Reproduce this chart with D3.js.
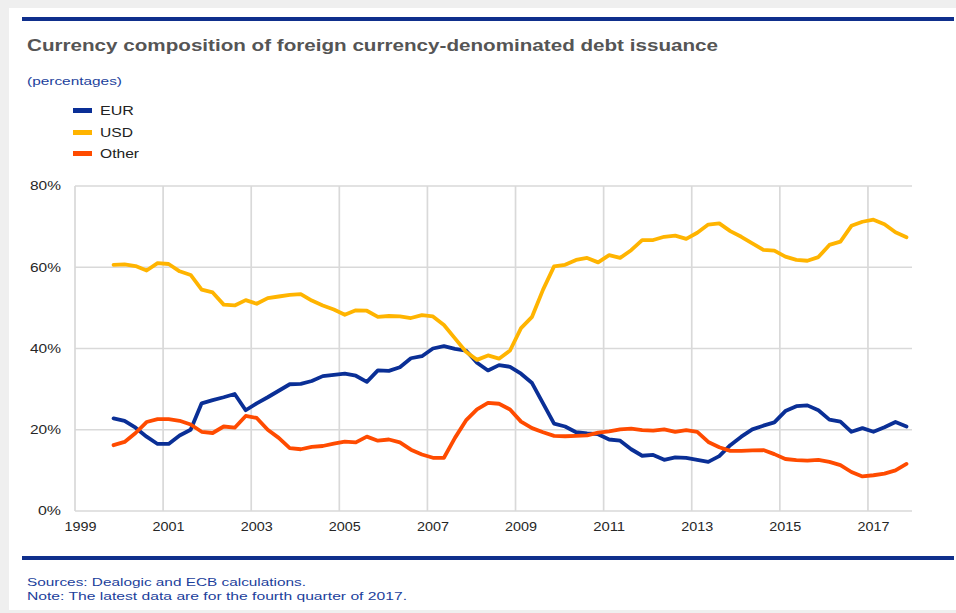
<!DOCTYPE html>
<html>
<head>
<meta charset="utf-8">
<script src="https://cdn.jsdelivr.net/npm/d3@7"></script>
<style>
  html, body { margin: 0; padding: 0; background: #efefef; }
  svg { display: block; }
  text { font-family: "Liberation Sans", Arial, sans-serif; }
</style>
</head>
<body>
<svg id="chart" width="956" height="613"></svg>
<script>
// Quarterly observations, 1999 Q4 to 2017 Q4
const firstYear = 1999, firstQuarter = 4, nQuarters = 73;
const quarters = [];
for (let i = 0; i < nQuarters; i++) {
  const k = (firstQuarter - 1) + i;
  quarters.push({ year: firstYear + Math.floor(k / 4), q: (k % 4) + 1 });
}

// Shares of issuance (percentages)
const eur = [
  22.8, 22.2, 20.5, 18.3, 16.5, 16.5, 18.6, 20.0, 26.5, 27.3,
  28.0, 28.8, 24.8, 26.5, 28.0, 29.6, 31.2, 31.3, 32.0, 33.2,
  33.5, 33.8, 33.3, 31.8, 34.6, 34.5, 35.4, 37.6, 38.1, 40.0,
  40.6, 39.9, 39.5, 36.5, 34.6, 35.9, 35.5, 33.8, 31.5, 26.5,
  21.5, 20.8, 19.4, 19.1, 18.9, 17.6, 17.3, 15.2, 13.6, 13.8,
  12.6, 13.2, 13.1, 12.6, 12.1, 13.5, 16.2, 18.3, 20.1, 21.0,
  21.8, 24.6, 25.8, 26.0, 24.8, 22.5, 22.0, 19.5, 20.4, 19.5,
  20.6, 21.9, 20.8
];
const usd = [
  60.6, 60.7, 60.3, 59.2, 61.0, 60.8, 59.0, 58.1, 54.5, 53.8,
  50.8, 50.6, 51.9, 51.0, 52.4, 52.8, 53.2, 53.4, 51.8, 50.6,
  49.6, 48.3, 49.4, 49.3, 47.8, 48.0, 47.9, 47.5, 48.2, 47.9,
  45.8, 42.5, 39.2, 37.2, 38.3, 37.5, 39.5, 45.0, 47.8, 54.5,
  60.2, 60.6, 61.8, 62.3, 61.2, 63.0, 62.3, 64.2, 66.7, 66.7,
  67.5, 67.8, 67.0, 68.5, 70.5, 70.8, 68.9, 67.5, 65.9, 64.3,
  64.1, 62.6, 61.8, 61.6, 62.5, 65.5, 66.3, 70.2, 71.2, 71.7,
  70.6, 68.6, 67.4
];
const other = [
  16.2, 17.0, 19.2, 21.9, 22.6, 22.6, 22.2, 21.3, 19.5, 19.2,
  20.8, 20.5, 23.4, 22.9, 20.0, 18.0, 15.5, 15.2, 15.8, 16.0,
  16.6, 17.1, 16.9, 18.3, 17.3, 17.6, 16.9, 15.1, 13.9, 13.1,
  13.1, 18.0, 22.3, 25.0, 26.6, 26.4, 25.0, 22.0, 20.4, 19.4,
  18.5, 18.4, 18.5, 18.6, 19.3, 19.6, 20.1, 20.3, 19.9, 19.8,
  20.1, 19.5, 19.9, 19.5, 17.0, 15.7, 14.8, 14.8, 14.9, 15.0,
  14.0, 12.8, 12.5, 12.4, 12.6, 12.1, 11.3, 9.6, 8.5, 8.8,
  9.2, 10.0, 11.6
];

const seriesNames = ["EUR", "USD", "Other"];
const seriesColors = ["#0a2f96", "#ffb400", "#ff4b00"];
const seriesValues = [eur, usd, other];

const xTickYears = [1999, 2001, 2003, 2005, 2007, 2009, 2011, 2013, 2015, 2017];
const yTicks = [0, 20, 40, 60, 80];

const titleText = "Currency composition of foreign currency-denominated debt issuance";
const unitText = "(percentages)";
const sourceText = "Sources: Dealogic and ECB calculations.";
const noteText = "Note: The latest data are for the fourth quarter of 2017.";

// ---- layout ----
const svg = d3.select("#chart");
const plot = { left: 75, right: 912, top: 186, bottom: 511 };
const navy = "#0f2f8c";
const textBlue = "#1c3f9c";

// white card with frame
svg.append("rect").attr("x", 9).attr("y", 8).attr("width", 947).attr("height", 602).attr("fill", "#ffffff");

// top and bottom rules
svg.append("rect").attr("x", 22).attr("y", 17).attr("width", 932).attr("height", 4).attr("fill", navy);
svg.append("rect").attr("x", 22).attr("y", 556).attr("width", 932).attr("height", 4).attr("fill", navy);

// helper to fit a text to a given width
function fitText(sel, width) {
  sel.attr("textLength", width).attr("lengthAdjust", "spacingAndGlyphs");
  return sel;
}

fitText(svg.append("text").attr("x", 27).attr("y", 51)
  .attr("font-size", 17).attr("font-weight", "bold").attr("fill", "#555555")
  .text(titleText), 691);

fitText(svg.append("text").attr("x", 27).attr("y", 85)
  .attr("font-size", 10.5).attr("fill", textBlue)
  .text(unitText), 95);

// legend
const legendY = [110.5, 132.5, 153.5];
const legendW = [34, 33, 39];
seriesNames.forEach((name, i) => {
  svg.append("rect").attr("x", 73).attr("y", legendY[i] - 2.5)
    .attr("width", 19).attr("height", 5).attr("fill", seriesColors[i]);
  fitText(svg.append("text").attr("x", 100).attr("y", legendY[i] + 4.5)
    .attr("font-size", 12.5).attr("fill", "#222")
    .text(name), legendW[i]);
});

// scales
const x = d3.scaleLinear().domain([1999, 2018]).range([plot.left, plot.right]);
const y = d3.scaleLinear().domain([0, 80]).range([plot.bottom, plot.top]);
const qPos = d => d.year + (d.q - 0.5) / 4;

// grid
const grid = svg.append("g").attr("stroke", "#d9d9d9").attr("stroke-width", 1.7);
yTicks.forEach(t => {
  grid.append("line").attr("x1", plot.left).attr("x2", plot.right)
    .attr("y1", y(t)).attr("y2", y(t));
});
xTickYears.forEach(t => {
  grid.append("line").attr("x1", x(t)).attr("x2", x(t))
    .attr("y1", plot.top).attr("y2", plot.bottom);
});

// y axis labels
const yAxis = d3.axisLeft(y).tickValues(yTicks).tickSize(0).tickPadding(14)
  .tickFormat(d => d + "%");
const gy = svg.append("g").attr("transform", `translate(${plot.left},0)`).call(yAxis);
gy.select(".domain").remove();
gy.selectAll("text").attr("font-size", 12).attr("fill", "#262626")
  .attr("font-family", "'Liberation Sans', Arial, sans-serif")
  .each(function (d) { d3.select(this).attr("textLength", d === 0 ? 23 : 31).attr("lengthAdjust", "spacingAndGlyphs"); });

// x axis labels
const xAxis = d3.axisBottom(x).tickValues(xTickYears).tickSize(0).tickPadding(11)
  .tickFormat(d3.format("d"));
const gx = svg.append("g").attr("transform", `translate(0,${plot.bottom})`).call(xAxis);
gx.select(".domain").remove();
gx.selectAll("text").attr("font-size", 12.5).attr("fill", "#262626")
  .attr("font-family", "'Liberation Sans', Arial, sans-serif")
  .attr("dx", 5)
  .attr("textLength", 32).attr("lengthAdjust", "spacingAndGlyphs");

// series lines
const line = d3.line()
  .x((d, i) => x(qPos(quarters[i])))
  .y(d => y(d));

seriesValues.forEach((vals, i) => {
  svg.append("path").datum(vals)
    .attr("fill", "none")
    .attr("stroke", seriesColors[i])
    .attr("stroke-width", 3.8)
    .attr("stroke-linejoin", "round")
    .attr("stroke-linecap", "round")
    .attr("d", line);
});

// footnotes
fitText(svg.append("text").attr("x", 27).attr("y", 586)
  .attr("font-size", 11).attr("fill", textBlue)
  .text(sourceText), 279);
fitText(svg.append("text").attr("x", 27).attr("y", 600)
  .attr("font-size", 11).attr("fill", textBlue)
  .text(noteText), 380);
</script>
</body>
</html>
